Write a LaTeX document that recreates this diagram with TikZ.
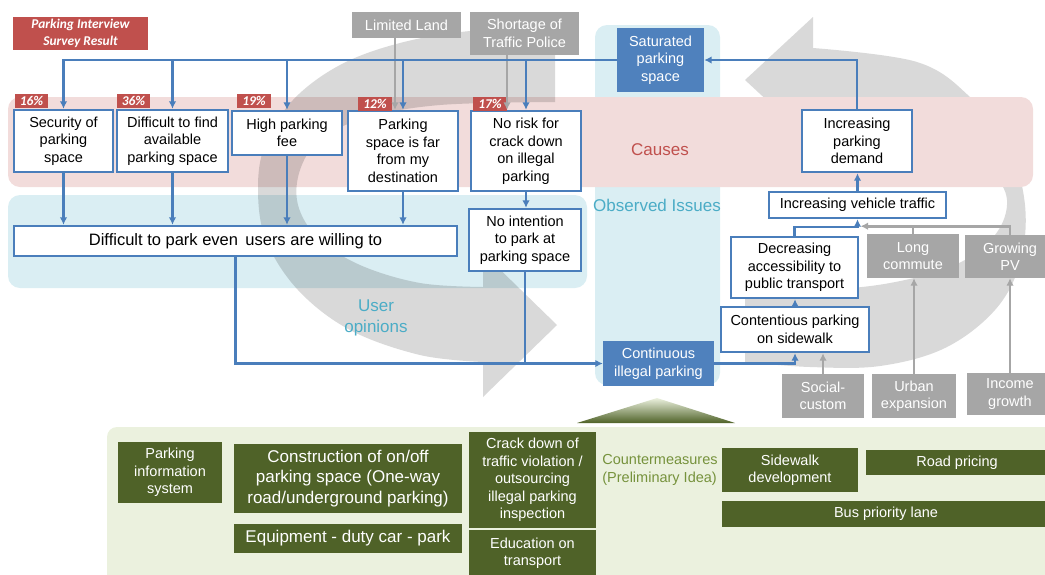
\documentclass[tikz,border=0pt]{standalone}
\usepackage{fontspec}
\setmainfont{Liberation Sans}
\newfontfamily\tagfont{Carlito}
\usetikzlibrary{arrows.meta,calc}

\definecolor{bline}{HTML}{4A7EBB}
\definecolor{bfill}{HTML}{4F81BD}
\definecolor{rtag}{HTML}{C0504D}
\definecolor{gbox}{HTML}{A6A6A6}
\definecolor{pinkband}{HTML}{F2DCDB}
\definecolor{cyanband}{HTML}{DAEEF3}
\definecolor{cyantext}{HTML}{4BACC6}
\definecolor{panelgreen}{HTML}{EBF1DE}
\definecolor{darkgreen}{HTML}{4F6228}
\definecolor{olive}{HTML}{76923C}

\tikzset{
  sz/.style 2 args={minimum width=#1pt, minimum height=#2pt},
  base/.style={inner sep=0pt, align=center, font=\fontsize{14.5}{17.5}\selectfont},
  cause/.style={base, draw=bline, line width=2.4pt, fill=white, text=black},
  issue/.style={base, fill=bfill, text=white},
  factor/.style={base, fill=gbox, text=white},
  measure/.style={base, fill=darkgreen, text=white},
  bigtext/.style={font=\fontsize{17}{20.5}\selectfont},
  tag/.style={inner sep=0pt, fill=rtag, text=white, font=\tagfont\fontsize{13.4}{17}\selectfont\bfseries\itshape},
  link/.style={draw=bline, line width=2.4pt, -{Latex[length=7.5pt,width=7.5pt]}},
  plain/.style={draw=bline, line width=2.4pt},
  glink/.style={draw=gbox, line width=2.6pt, -{Latex[length=7.5pt,width=7.5pt]}},
  gplain/.style={draw=gbox, line width=2.6pt},
  band/.style={rounded corners=12pt},
  swirl/.style={fill=black, fill opacity=0.15},
}

\begin{document}
\begin{tikzpicture}[x=1pt, y=-1pt]
\useasboundingbox (0,0) rectangle (1045,574);

% ---------- right cycle arrow (behind the causes band) ----------
\fill[black!15] plot[smooth, tension=0.6] coordinates {(745,362) (810,367) (880,366) (945,348) (995,310) (1020,263) (1025,205) (1008,145) (970,97) (917,62) (813,48)}
  -- (813,17) -- (745,80) -- (813,143)
  -- plot[smooth, tension=0.6] coordinates {(813,110) (890,118) (950,140) (990,170) (1007,200) (995,235) (955,265) (890,283) (820,290) (745,290)}
  -- cycle;

% ---------- background bands ----------
\fill[cyanband, band] (595,25) rectangle (720,385);
\fill[pinkband, band] (8,97) rectangle (1033,187);
\fill[cyanband, band] (8,195) rectangle (587,288);
\fill[panelgreen, rounded corners=10pt] (107,427) rectangle (1070,600);
\shade[top color=panelgreen, bottom color=darkgreen] (657,398) -- (735,423) -- (577,423) -- cycle;

% ---------- left cycle arrow (over the bands) ----------
\fill[swirl] plot[smooth, tension=0.6] coordinates {(555,28) (470,31) (400,43) (340,65) (293,100) (265,145) (258,190) (266,240) (298,290) (350,330) (420,355) (483,362)}
  -- (483,397) -- (557,325) -- (483,253)
  -- plot[smooth, tension=0.6] coordinates {(483,287) (420,283) (360,265) (318,238) (298,205) (300,170) (320,140) (365,118) (440,105) (555,102)}
  -- cycle;

% ---------- section labels ----------
\node[bigtext, text=rtag] (causes) at (660,150) {Causes};
\node[bigtext, text=cyantext] (observed) at (657,205) {Observed Issues};
\node[bigtext, text=cyantext, align=center] (opinions) at (376,318) {User\\opinions};
\node[base, text=olive, align=left] (counter) at (660,470) {Countermeasures\\(Preliminary Idea)};

% ---------- survey title ----------
\node[tag, sz={135}{33}, align=center] (title) at (80.5,33.5) {Parking Interview\\Survey Result};

% ---------- outside factors ----------
\node[factor, sz={109}{26}] (land) at (406.5,25) {Limited Land};
\node[factor, sz={109}{43}] (police) at (524.5,33.5) {Shortage of\\Traffic Police};
\node[factor, sz={92}{44}] (longc) at (913,256) {Long\\commute};
\node[factor, sz={90}{43}] (pv) at (1010,256.5) {Growing\\PV};
\node[factor, sz={82}{44}] (social) at (823,396) {Social-\\custom};
\node[factor, sz={84}{44}] (urban) at (914,396) {Urban\\expansion};
\node[factor, sz={86}{42}] (income) at (1010,394) {Income\\growth};

% ---------- observed issues ----------
\node[issue, sz={87}{64}] (sat) at (660.5,60) {Saturated\\parking\\space};
\node[issue, sz={111}{45}] (cont) at (658.5,363.5) {Continuous\\illegal parking};

% ---------- causes ----------
\node[cause, sz={99}{62}] (sec) at (63.5,141) {Security of\\parking\\space};
\node[cause, sz={111}{62}] (find) at (172.5,141) {Difficult to find\\available\\parking space};
\node[cause, sz={110}{44}] (fee) at (287,133) {High parking\\fee};
\node[cause, sz={110}{80}] (far) at (403,151) {Parking\\space is far\\from my\\destination};
\node[cause, sz={110}{80}] (norisk) at (526,151) {No risk for\\crack down\\on illegal\\parking};
\node[cause, sz={110}{62}] (dem) at (857,141) {Increasing\\parking\\demand};

% ---------- survey shares ----------
\node[tag, sz={33}{14}] (p16) at (31.5,101) {16\%};
\node[tag, sz={33}{14}] (p36) at (133.5,101) {36\%};
\node[tag, sz={34}{14}] (p19) at (254,101) {19\%};
\node[tag, sz={34}{14}] (p12) at (375,104) {12\%};
\node[tag, sz={34}{14}] (p17) at (490,104) {17\%};

% ---------- user opinions ----------
\node[cause, sz={443}{30}, font=\fontsize{16.5}{19}\selectfont] (park) at (235.5,241) {Difficult to park even\, users are willing to};
\node[cause, sz={112}{62}] (noint) at (525,240) {No intention\\to park at\\parking space};

% ---------- demand chain ----------
\node[cause, sz={148}{45}] (side) at (795,329.5) {Contentious parking\\on sidewalk};
\node[cause, sz={127}{61}] (acc) at (794.5,267.5) {Decreasing\\accessibility to\\public transport};
\node[cause, sz={177}{26}] (traffic) at (857.5,205) {Increasing vehicle traffic};

% ---------- countermeasures ----------
\node[measure, sz={104}{61}] (pis) at (170,472.5) {Parking\\information\\system};
\node[measure, sz={228}{69}, font=\fontsize{17}{20.7}\selectfont] (cons) at (348,478.5) {Construction of on/off\\parking space (One-way\\road/underground parking)};
\node[measure, sz={228}{29}, font=\fontsize{17}{20.7}\selectfont] (equip) at (348,538.5) {Equipment - duty car - park};
\node[measure, sz={127}{96}] (crack) at (532.5,480) {Crack down of\\traffic violation /\\outsourcing\\illegal parking\\inspection};
\node[measure, sz={127}{46}] (edu) at (532.5,553) {Education on\\transport};
\node[measure, sz={136}{44}] (walk) at (790,470) {Sidewalk\\development};
\node[measure, sz={182}{25}] (road) at (957,462.5) {Road pricing};
\node[measure, sz={328}{26}] (bus) at (886,514) {Bus priority lane};

% ---------- grey influence lines ----------
\draw[glink] ([xshift=-11.5pt]land.south) -- ([xshift=-11.5pt]land.south |- far.north);
\draw[glink] ([xshift=-17.5pt]police.south) -- ([xshift=-17.5pt]police.south |- norisk.north);
\coordinate (gj) at ($(traffic.south)+(3,7)$);
\draw[glink] (pv.north) |- (gj);
\draw[gplain] (longc.north) -- (longc.north |- gj);
\draw[glink] (social.north) -- (social.north |- side.south);
\draw[glink] (urban.north) -- (urban.north |- longc.south);
\draw[glink] (income.north) -- (income.north |- pv.south);

% ---------- blue cause-effect links ----------
\draw[link] (sat.west) -| (sec.north);
\draw[link] (sat.west) -| (find.north);
\draw[link] (sat.west) -| (fee.north);
\draw[link] (sat.west) -| (far.north);
\draw[link] (sat.west) -| (norisk.north);
\draw[link] (dem.north) |- (sat.east);

\draw[link] (sec.south) -- (sec.south |- park.north);
\draw[link] (find.south) -- (find.south |- park.north);
\draw[link] (fee.south) -- (fee.south |- park.north);
\draw[link] (far.south) -- (far.south |- park.north);
\draw[link] (norisk.south) -- (norisk.south |- noint.north);

\draw[link] (park.south) |- (cont.west);
\draw[plain] (noint.south) -- (noint.south |- cont.west);

\draw[link] (cont.east) -| (side.south);
\draw[link] (side.north) -- (side.north |- acc.south);
\draw[link] (acc.north) -- ++(0,-9) -| (traffic.south);
\draw[link] (traffic.north) -- (traffic.north |- dem.south);
\end{tikzpicture}
\end{document}
